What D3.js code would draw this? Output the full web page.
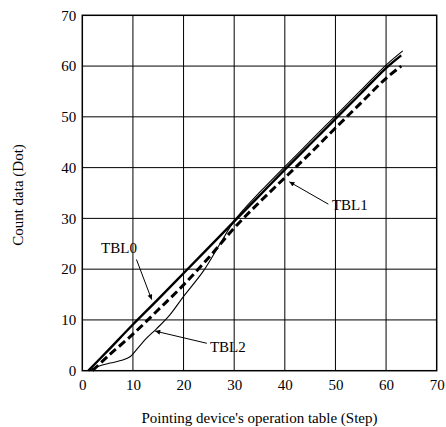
<!DOCTYPE html>
<html>
<head>
<meta charset="utf-8">
<script src="https://cdn.jsdelivr.net/npm/d3@7"></script>
<style>
  body { margin: 0; background: #fff; }
  text { font-family: "Liberation Serif", "Times New Roman", serif; fill: #000; }
</style>
</head>
<body>
<div id="chart"></div>
<script>
// steps vs. count data
const xTicks = [0, 10, 20, 30, 40, 50, 60, 70];
const yTicks = [0, 10, 20, 30, 40, 50, 60, 70];

const tbl0 = [[1.2, 0], [5, 3.9], [10, 9.1], [15, 14.1], [20, 19.2], [25, 24.3], [30, 29.4],
  [35, 34.5], [40, 39.6], [45, 44.6], [50, 49.6], [55, 54.6], [60, 59.6], [63, 62.1]];
const tbl1 = [[2, 0], [5, 2.8], [10, 7.2], [15, 12], [20, 16.9], [25, 22.3], [30, 28.1],
  [35, 33.2], [40, 38], [45, 42.8], [50, 47.8], [55, 52.7], [60, 57.6], [63, 60]];
const tbl2 = [[1.2, 0], [3, 0.8], [5.5, 1.5], [8, 2.1], [9.5, 2.8], [10.6, 4], [12.7, 6.4],
  [14.7, 8.3], [17.3, 11], [19.9, 14.5], [23.9, 19.6], [27.2, 25], [30, 29.5], [32, 31.9],
  [35, 35.1], [40, 40.2], [45, 45.2], [50, 50.2], [55, 55.2], [60, 60.2], [63.3, 63]];

// label text, label anchor, arrow start, arrow tip (data units)
const labels = [
  { name: "TBL0", at: [7.25, 23.2], anchor: "middle", from: [10.7, 21.9], to: [13.7, 14.0] },
  { name: "TBL1", at: [49.3, 31.6], anchor: "start", from: [48.6, 32.8], to: [40.9, 37.2] },
  { name: "TBL2", at: [25.2, 3.7], anchor: "start", from: [24.6, 5.4], to: [14.4, 7.8] }
];

const width = 446, height = 427;
const margin = { top: 15.3, right: 9.3, bottom: 56.3, left: 82.3 };

const svg = d3.select("#chart").append("svg")
  .attr("width", width)
  .attr("height", height);

const x = d3.scaleLinear().domain([0, 70]).range([margin.left, width - margin.right]);
const y = d3.scaleLinear().domain([0, 70]).range([height - margin.bottom, margin.top]);

svg.append("defs").append("marker")
  .attr("id", "arrow")
  .attr("viewBox", "0 0 10 10")
  .attr("refX", 10)
  .attr("refY", 5)
  .attr("markerWidth", 7)
  .attr("markerHeight", 5)
  .attr("markerUnits", "userSpaceOnUse")
  .attr("orient", "auto")
  .append("path")
  .attr("d", "M0,0L10,5L0,10z")
  .attr("fill", "#000");

// grid
svg.append("g")
  .selectAll("line")
  .data(xTicks.slice(1, -1))
  .join("line")
  .attr("x1", d => x(d)).attr("x2", d => x(d))
  .attr("y1", y(0)).attr("y2", y(70))
  .attr("stroke", "#000").attr("stroke-width", 1);

svg.append("g")
  .selectAll("line")
  .data(yTicks.slice(1, -1))
  .join("line")
  .attr("y1", d => y(d)).attr("y2", d => y(d))
  .attr("x1", x(0)).attr("x2", x(70))
  .attr("stroke", "#000").attr("stroke-width", 1);

// frame
svg.append("rect")
  .attr("x", x(0)).attr("y", y(70))
  .attr("width", x(70) - x(0)).attr("height", y(0) - y(70))
  .attr("fill", "none").attr("stroke", "#000").attr("stroke-width", 1.5);

// axes (labels only, no tick marks)
const xAxis = svg.append("g")
  .attr("transform", "translate(0," + y(0) + ")")
  .call(d3.axisBottom(x).tickValues(xTicks).tickSize(0).tickPadding(9));
const yAxis = svg.append("g")
  .attr("transform", "translate(" + x(0) + ",0)")
  .call(d3.axisLeft(y).tickValues(yTicks).tickSize(0).tickPadding(6));
[xAxis, yAxis].forEach(g => {
  g.select(".domain").remove();
  g.selectAll("text")
    .style("font-family", "'Liberation Serif', 'Times New Roman', serif")
    .style("font-size", "15px")
    .attr("fill", "#000");
});

// series
const line = d3.line()
  .x(d => x(d[0]))
  .y(d => y(d[1]))
  .curve(d3.curveCatmullRom.alpha(0.5));

svg.append("path").datum(tbl2)
  .attr("d", line).attr("fill", "none")
  .attr("stroke", "#000").attr("stroke-width", 1.1);
svg.append("path").datum(tbl1)
  .attr("d", line).attr("fill", "none")
  .attr("stroke", "#000").attr("stroke-width", 3)
  .attr("stroke-dasharray", "8,4");
svg.append("path").datum(tbl0)
  .attr("d", line).attr("fill", "none")
  .attr("stroke", "#000").attr("stroke-width", 2.4);

// annotations
const ann = svg.append("g").selectAll("g").data(labels).join("g");
ann.append("line")
  .attr("x1", d => x(d.from[0])).attr("y1", d => y(d.from[1]))
  .attr("x2", d => x(d.to[0])).attr("y2", d => y(d.to[1]))
  .attr("stroke", "#000").attr("stroke-width", 1)
  .attr("marker-end", "url(#arrow)");
ann.append("text")
  .attr("x", d => x(d.at[0])).attr("y", d => y(d.at[1]))
  .attr("text-anchor", d => d.anchor)
  .style("font-size", "15px")
  .text(d => d.name);

// axis titles
svg.append("text")
  .attr("x", (x(0) + x(70)) / 2)
  .attr("y", 423)
  .attr("text-anchor", "middle")
  .style("font-size", "15px")
  .text("Pointing device's operation table (Step)");

svg.append("text")
  .attr("transform", "translate(23,195) rotate(-90)")
  .attr("text-anchor", "middle")
  .style("font-size", "15px")
  .text("Count data (Dot)");
</script>
</body>
</html>
